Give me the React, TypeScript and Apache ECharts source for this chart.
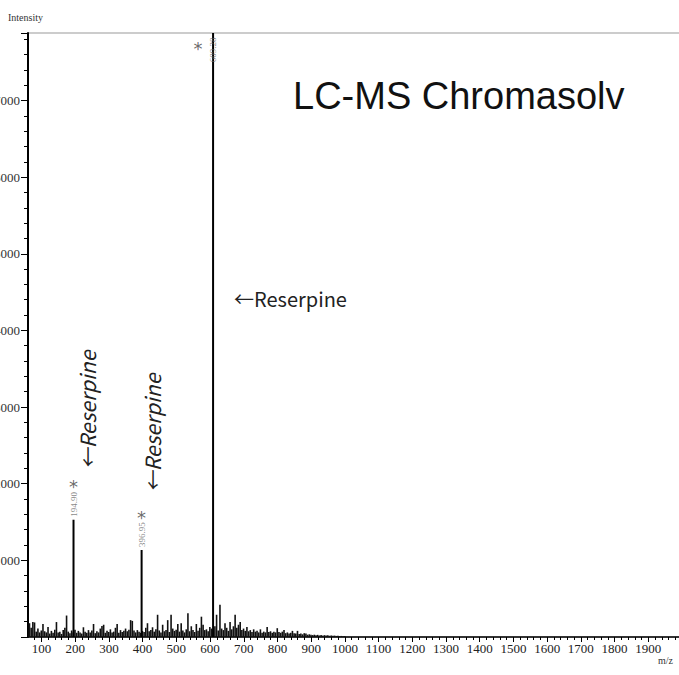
import React, { useEffect, useRef } from "react";
import * as echarts from "echarts";

// ---------- data ----------
const xMin = 60;
const xMax = 2000;
const yMax = 7880;

// background noise spectrum, sampled every noiseStep m/z starting at noiseStart
const noiseStart = 60;
const noiseStep = 5;
const noiseIntensity = [
  90, 180, 120, 195, 190, 70, 110, 60, 85, 170,
  75, 60, 130, 45, 80, 55, 95, 195, 60, 70,
  40, 90, 120, 280, 70, 50, 85, 60, 95, 55,
  80, 60, 45, 127, 70, 55, 90, 60, 85, 170,
  50, 75, 60, 110, 145, 160, 55, 80, 65, 100,
  60, 70, 120, 168, 55, 90, 65, 80, 110, 75,
  95, 220, 210, 85, 60, 90, 70, 55, 80, 65,
  120, 180, 75, 90, 127, 70, 100, 290, 85, 60,
  160, 75, 90, 220, 65, 290, 110, 80, 95, 170,
  70, 180, 85, 60, 100, 310, 75, 140, 90, 65,
  170, 80, 120, 265, 160, 90, 100, 75, 130, 110,
  95, 140, 290, 85, 420, 110, 90, 180, 120, 80,
  195, 100, 140, 290, 120, 160, 195, 90, 110, 80,
  130, 75, 90, 65, 100, 70, 80, 60, 100, 55,
  70, 60, 130, 65, 75, 55, 70, 60, 115, 65,
  55, 70, 90, 50, 60, 45, 55, 80, 50, 45,
  80, 40, 45, 35, 50, 45, 30, 35, 28, 25,
  30, 22, 28, 20, 25, 18, 24, 20, 22, 16,
  20, 15, 18, 14, 16, 12, 14, 10, 12,
];

// labelled peaks
const peakMz = [195, 397, 609];
const peakIntensity = [1530, 1135, 9500];
const peakLabels = ["194.90", "396.95", "609.28"];
const labelCap = 7500;

// axis ticks
const xMajorTicks = [100, 200, 300, 400, 500, 600, 700, 800, 900, 1000, 1100, 1200, 1300, 1400, 1500, 1600, 1700, 1800, 1900, 2000];
const xTickLabels = [100, 200, 300, 400, 500, 600, 700, 800, 900, 1000, 1100, 1200, 1300, 1400, 1500, 1600, 1700, 1800, 1900];
const xMinorTicks: number[] = [];
for (let v = 80; v < xMax; v += 20) if (v % 100 !== 0) xMinorTicks.push(v);

const SHIFT = 40;
const CHART_W = 740;
const CHART_H = 675;

export default function App() {
  const ref = useRef<HTMLDivElement>(null);

  useEffect(() => {
    if (!ref.current) return;
    const chart = echarts.init(ref.current, undefined, { renderer: "svg" });

    const noiseData = noiseIntensity.map((v, i) => [noiseStart + i * noiseStep, v]);
    const peakData = peakMz.map((m, i) => [m, peakIntensity[i]]);

    const massLabelData = peakMz.map((m, i) => ({
      value: [m, Math.min(peakIntensity[i], labelCap)],
      label: {
        show: true,
        formatter: peakLabels[i],
        rotate: 90,
        position: "top",
        distance: peakIntensity[i] > labelCap ? 0 : 3,
        align: "left",
        verticalAlign: "middle",
        fontSize: 9,
        fontFamily: "Liberation Serif",
        color: "#666",
      },
    }));

    const starData = peakMz.map((m, i) => ({
      value: [m, Math.min(peakIntensity[i], labelCap)],
      label: {
        show: true,
        formatter: "*",
        position: "top",
        distance: 0,
        offset: peakIntensity[i] > labelCap ? [-15, -14] : [0, -33],
        verticalAlign: "middle",
        fontSize: 18,
        fontFamily: "DejaVu Sans",
        color: "#444",
      },
    }));

    const option: any = {
      animation: false,
      backgroundColor: "#fff",
      grid: {
        left: 28 + SHIFT,
        top: 33,
        bottom: 38,
        right: 18,
        show: true,
        borderColor: "#999",
        borderWidth: 1,
        backgroundColor: "transparent",
      },
      xAxis: [
        {
          type: "value",
          min: xMin,
          max: xMax,
          position: "bottom",
          splitLine: { show: false },
          axisLine: { show: true, lineStyle: { color: "#000", width: 1.5 } },
          axisTick: { show: true, customValues: xMajorTicks, length: 5, lineStyle: { color: "#000" } },
          axisLabel: {
            customValues: xTickLabels,
            formatter: (v: number) => String(v),
            fontFamily: "Liberation Serif",
            fontSize: 13,
            color: "#222",
            margin: 5,
          },
        },
        {
          type: "value",
          min: xMin,
          max: xMax,
          position: "bottom",
          splitLine: { show: false },
          axisLine: { show: false },
          axisLabel: { show: false },
          axisTick: { show: true, customValues: xMinorTicks, length: 3, lineStyle: { color: "#000" } },
        },
      ],
      yAxis: {
        type: "value",
        min: 0,
        max: yMax,
        interval: 1000,
        splitLine: { show: false },
        axisLine: { show: true, lineStyle: { color: "#000", width: 2 } },
        axisTick: { show: true, length: 7, lineStyle: { color: "#000" } },
        minorTick: { show: true, splitNumber: 5, length: 4, lineStyle: { color: "#000" } },
        axisLabel: {
          formatter: (v: number) => String(v),
          fontFamily: "Liberation Serif",
          fontSize: 13,
          color: "#333",
          margin: 8,
          showMaxLabel: false,
          showMinLabel: false,
        },
      },
      series: [
        {
          type: "bar",
          name: "noise",
          data: noiseData,
          barWidth: 1.6,
          barGap: "-100%",
          itemStyle: { color: "#111" },
          silent: true,
        },
        {
          type: "bar",
          name: "peaks",
          data: peakData,
          barWidth: 2,
          barGap: "-100%",
          itemStyle: { color: "#000" },
          silent: true,
        },
        {
          type: "scatter",
          name: "massLabels",
          data: massLabelData,
          symbolSize: 0,
          silent: true,
        },
        {
          type: "scatter",
          name: "stars",
          data: starData,
          symbolSize: 0,
          silent: true,
        },
      ],
      graphic: [
        {
          type: "text",
          x: 8 + SHIFT,
          y: 17,
          style: { text: "Intensity", fontFamily: "Liberation Serif", fontSize: 10, fill: "#333", verticalAlign: "middle" },
        },
        {
          type: "text",
          x: 293 + SHIFT,
          y: 96,
          style: { text: "LC-MS Chromasolv", fontFamily: "Liberation Sans", fontSize: 38, fill: "#111", verticalAlign: "middle" },
        },
        {
          type: "text",
          x: 234 + SHIFT,
          y: 298,
          style: { text: "←Reserpine", fontFamily: "Noto Sans CJK JP", fontSize: 20, fill: "#222", verticalAlign: "middle" },
        },
        {
          type: "text",
          x: 87 + SHIFT,
          y: 410,
          rotation: Math.PI / 2,
          style: {
            text: "←Reserpine",
            fontFamily: "Noto Sans CJK JP",
            fontStyle: "italic",
            fontSize: 21,
            fill: "#222",
            align: "center",
            verticalAlign: "middle",
          },
        },
        {
          type: "text",
          x: 152 + SHIFT,
          y: 433,
          rotation: Math.PI / 2,
          style: {
            text: "←Reserpine",
            fontFamily: "Noto Sans CJK JP",
            fontStyle: "italic",
            fontSize: 21,
            fill: "#222",
            align: "center",
            verticalAlign: "middle",
          },
        },
        {
          type: "text",
          x: 658 + SHIFT,
          y: 660,
          style: { text: "m/z", fontFamily: "Liberation Serif", fontSize: 10, fill: "#333", verticalAlign: "middle" },
        },
      ],
    };

    chart.setOption(option);
    return () => chart.dispose();
  }, []);

  return (
    <div
      style={{
        position: "fixed",
        left: 0,
        top: 0,
        width: 679,
        height: 675,
        overflow: "hidden",
        background: "#fff",
      }}
    >
      <div
        ref={ref}
        style={{ position: "absolute", left: -SHIFT, top: 0, width: CHART_W, height: CHART_H }}
      />
    </div>
  );
}
